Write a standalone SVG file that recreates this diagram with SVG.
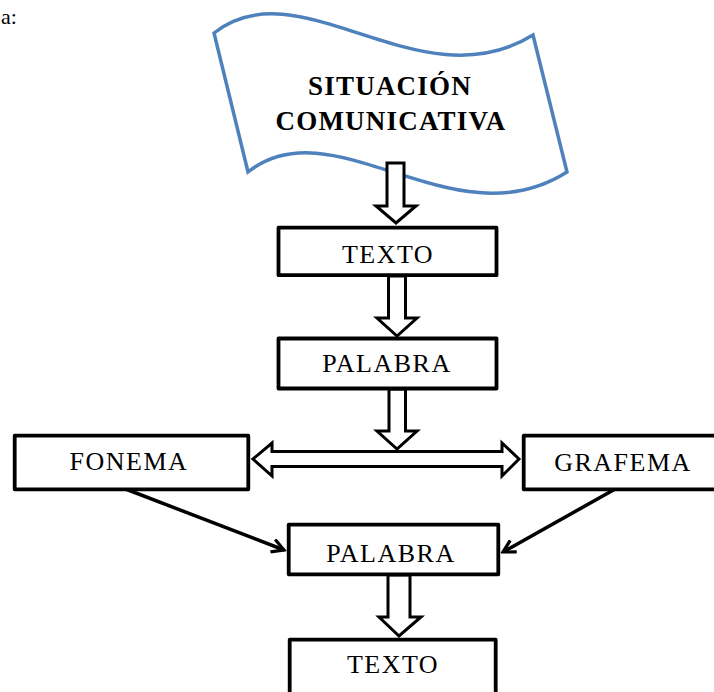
<svg xmlns="http://www.w3.org/2000/svg" width="714" height="692" viewBox="0 0 714 692">
<style>
.box{fill:#fff;stroke:#000;stroke-width:3.8;stroke-linejoin:round}
.lbl{font-family:"Liberation Serif","Times New Roman",serif;font-size:26px;letter-spacing:1.5px;text-anchor:middle;fill:#000}
.ttl{font-family:"Liberation Serif","Times New Roman",serif;font-size:27px;font-weight:bold;letter-spacing:1.2px;text-anchor:middle;fill:#000}
.blk{fill:#fff;stroke:#000;stroke-width:3;stroke-linejoin:miter}
.ln{fill:none;stroke:#000;stroke-width:3.5}
</style>
<defs>
<marker id="open" viewBox="0 0 12 12" refX="10" refY="6" markerWidth="16" markerHeight="16" markerUnits="userSpaceOnUse" orient="auto">
<path d="M1,1 L10,6 L1,11" fill="none" stroke="#000" stroke-width="2.4"/>
</marker>
</defs>
<rect width="714" height="692" fill="#fff"/>
<text x="1" y="24" font-family="Liberation Serif, serif" font-size="22" fill="#000">a:</text>

<g id="situacion">
<path d="M214,33 C300,-35 420,105 533,35 L567,172 C454,244 334,104 248,172 Z" fill="#fff" stroke="#4F81BD" stroke-width="3.5" stroke-linejoin="miter"/>
<text class="ttl" x="390" y="95">SITUACIÓN</text>
<text class="ttl" x="391" y="130">COMUNICATIVA</text>
</g>

<g id="connectors">
<path class="blk" d="M387,163 H404 V206 H416 L396,223 L376,206 H387 Z"/>
<path class="blk" d="M388.5,276 H405.5 V318 H417 L397,336 L377,318 H388.5 Z"/>
<path class="blk" d="M389,389 H405.5 V431 H417 L397,449 L377,431 H389 Z"/>
<path class="blk" d="M253,459 L272,443 V451.5 H502 V443 L519,459 L502,476 V466.5 H272 V476 Z"/>
<path class="blk" d="M388,575 H410 V617 H421 L399,636 L379,617 H388 Z"/>
<line class="ln" x1="123" y1="488" x2="284" y2="550" marker-end="url(#open)"/>
<line class="ln" x1="617" y1="488" x2="503" y2="552" marker-end="url(#open)"/>
</g>

<g id="texto1">
<rect class="box" x="278.5" y="227.7" width="218" height="47.5"/>
<text class="lbl" x="388" y="263">TEXTO</text>
</g>
<g id="palabra1">
<rect class="box" x="278.5" y="338.5" width="218" height="50"/>
<text class="lbl" x="387" y="372">PALABRA</text>
</g>
<g id="fonema">
<rect class="box" x="14.7" y="435.7" width="233.6" height="53.6"/>
<text class="lbl" x="129" y="470">FONEMA</text>
</g>
<g id="grafema">
<rect class="box" x="523.7" y="435.7" width="200" height="53.6"/>
<text class="lbl" x="623" y="471">GRAFEMA</text>
</g>
<g id="palabra2">
<rect class="box" x="288.7" y="524.7" width="209.6" height="49.6"/>
<text class="lbl" x="391" y="562">PALABRA</text>
</g>
<g id="texto2">
<rect class="box" x="289.7" y="639.7" width="206" height="60"/>
<text class="lbl" x="393" y="673">TEXTO</text>
</g>
</svg>
